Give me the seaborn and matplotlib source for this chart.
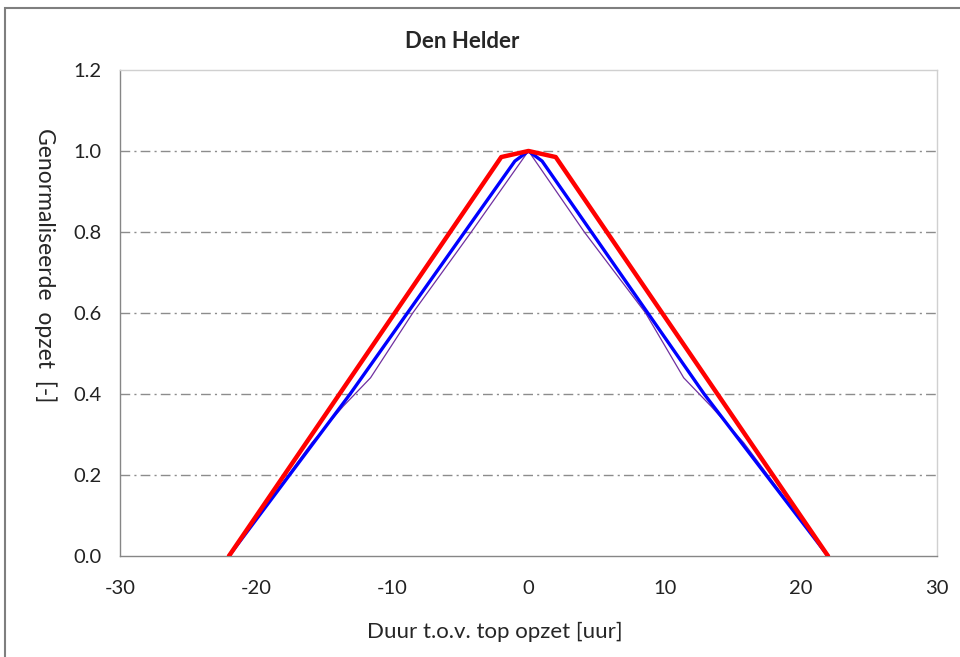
import matplotlib
matplotlib.use("Agg")
import matplotlib.pyplot as plt
import seaborn as sns
import pandas as pd
from matplotlib.patches import Rectangle

# Waarden (duur t.o.v. top [uur], genormaliseerde opzet [-])
x_paars = [-22, -15.9, -13.6, -11.6, -8.5, -4.2, 0, 4.1, 8.6, 11.4, 13.4, 15.8, 22]
y_paars = [0, 0.28, 0.37, 0.44, 0.6, 0.8, 1.0, 0.8, 0.6, 0.44, 0.37, 0.28, 0]

x_blauw = [-22, -13.1, -1.0, 0, 1.0, 12.9, 22]
y_blauw = [0, 0.4, 0.975, 1.0, 0.975, 0.4, 0]

x_rood = [-22, -2.0, 0, 2.0, 22]
y_rood = [0, 0.985, 1.0, 0.985, 0]

x_ticks = [-30, -20, -10, 0, 10, 20, 30]
y_ticks = [0.0, 0.2, 0.4, 0.6, 0.8, 1.0, 1.2]

sns.set_style("white")
plt.rcParams['font.family'] = ['Lato', 'DejaVu Sans']

fig = plt.figure(figsize=(9.6, 6.57), dpi=100)
ax = fig.add_axes([0.125, 0.1537, 0.851, 0.7398])

reeksen = [
    (x_paars, y_paars, "#7030A0", 0.9),
    (x_blauw, y_blauw, "#0000FF", 2.4),
    (x_rood, y_rood, "#FF0000", 3.2),
]
for xs, ys, kleur, dikte in reeksen:
    df = pd.DataFrame({"x": xs, "y": ys})
    sns.lineplot(data=df, x="x", y="y", sort=False, estimator=None,
                 color=kleur, linewidth=dikte, ax=ax, zorder=3)

ax.set_xlim(-30, 30)
ax.set_ylim(0, 1.2)
ax.set_xticks(x_ticks)
ax.set_xticklabels([str(t) for t in x_ticks])
ax.set_yticks(y_ticks)
ax.set_yticklabels([f"{t:.1f}" for t in y_ticks])
ax.tick_params(axis="both", labelsize=14.5, colors="#222222", length=5,
               width=0.8, direction="out")
ax.tick_params(axis="both", color="#868686")
ax.tick_params(axis="x", pad=12)
ax.tick_params(axis="y", pad=8)

for y in y_ticks[1:-1]:
    ax.axhline(y, color="#8c8c8c", linewidth=1.0, dashes=(7, 3, 1.5, 3), zorder=1)

ax.spines["left"].set_color("#868686")
ax.spines["bottom"].set_color("#868686")
ax.spines["top"].set_color("#d0d0d0")
ax.spines["right"].set_color("#d0d0d0")
for s in ax.spines.values():
    s.set_linewidth(1.0)
    s.set_visible(True)

ax.set_xlabel("")
ax.set_ylabel("")
fig.text(0.515, 1 - 632 / 657, "Duur t.o.v. top opzet [uur]", ha="center", va="center",
         fontsize=16)
fig.text(0.047, 1 - 265 / 657, "Genormaliseerde  opzet  [-]", ha="center", va="center",
         rotation=270, fontsize=16.5)
fig.text(0.481, 1 - 42 / 657, "Den Helder", ha="center", va="center",
         fontsize=16, fontweight="bold")

# kader rond de grafiek
fig.patches.append(Rectangle((0.005, -0.02), 1.02, 1.008, transform=fig.transFigure,
                             fill=False, edgecolor="#7f7f7f", linewidth=1.5))

fig.savefig("out.png", dpi=100)
